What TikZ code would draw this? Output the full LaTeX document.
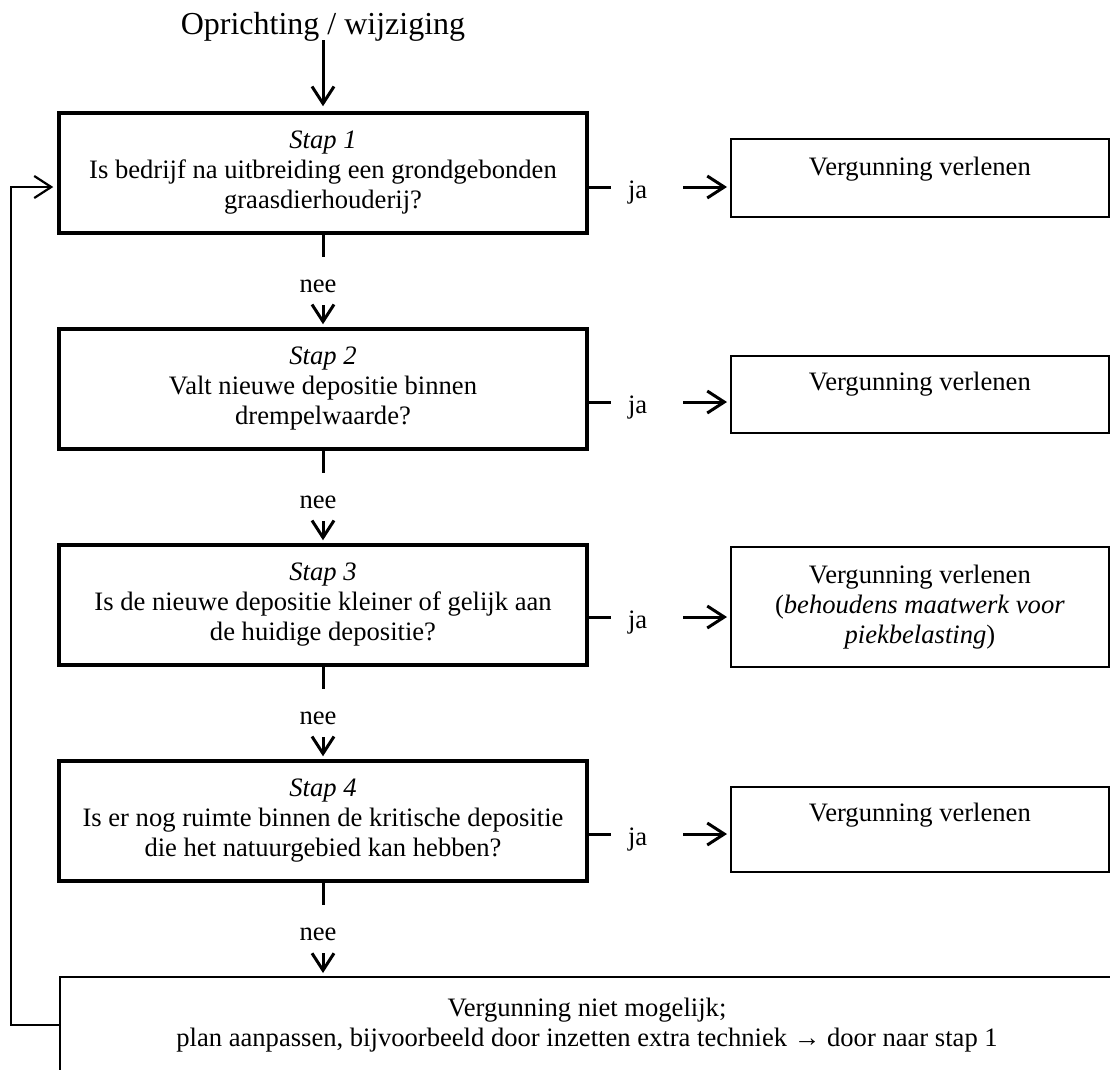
\documentclass[tikz,border=0pt]{standalone}
\usepackage{fontspec}
\setmainfont{Liberation Serif}
\usetikzlibrary{arrows.meta}
\begin{document}
\begin{tikzpicture}[x=1pt,y=-1pt,
  every node/.style={font=\fontsize{26.6}{30}\selectfont},
  qbox/.style={draw, line width=3.5pt, minimum width=528pt, minimum height=120pt, inner sep=0pt, align=center},
  rbox/.style={draw, line width=1.8pt, minimum width=378pt, inner xsep=0pt, inner ysep=0pt, anchor=north west, align=center},
  jalab/.style={inner xsep=17pt, inner ysep=0pt, text width=38pt, align=left, text height=24pt, text depth=2pt},
  neelab/.style={inner xsep=0pt, inner ysep=11pt, text height=24pt, text depth=2pt},
  conn/.style={line width=3pt},
  arr/.style={line width=3pt, -{Straight Barb[length=17pt,width=22pt]}, shorten >=3pt},
]
\path[use as bounding box, fill=white] (0,0) rectangle (1110,1069);
\clip (0,0) rectangle (1110,1069);

% title
\node[font=\fontsize{32}{36}\selectfont, inner sep=0pt, text depth=6pt, anchor=base] (t) at (323,34) {Oprichting / wijziging};

% question boxes
\node[qbox] (b1) at (323,173) {\textit{Stap 1}\\Is bedrijf na uitbreiding een grondgebonden\\graasdierhouderij?};
\node[qbox] (b2) at (323,389) {\textit{Stap 2}\\Valt nieuwe depositie binnen\\drempelwaarde?};
\node[qbox] (b3) at (323,605) {\textit{Stap 3}\\Is de nieuwe depositie kleiner of gelijk aan\\de huidige depositie?};
\node[qbox] (b4) at (323,821) {\textit{Stap 4}\\Is er nog ruimte binnen de kritische depositie\\die het natuurgebied kan hebben?};

% bottom box
\node[draw, line width=2pt, minimum width=1054pt, minimum height=96pt, inner sep=0pt, align=center] (b5) at (587,1025) {Vergunning niet mogelijk;\\plan aanpassen, bijvoorbeeld door inzetten extra techniek → door naar stap 1};

% result boxes
\node[rbox, text height=37pt, text depth=41pt] (r1) at (730,138) {Vergunning verlenen};
\node[rbox, text height=35pt, text depth=42pt] (r2) at (730,355) {Vergunning verlenen};
\node[rbox, minimum height=120pt] (r3) at (730,546) {Vergunning verlenen\\(\textit{behoudens maatwerk voor}\\\textit{piekbelasting})};
\node[rbox, text height=35pt, text depth=50pt] (r4) at (730,786) {Vergunning verlenen};

% labels
\node[jalab] (ja1) at (647,187) {ja};
\node[jalab] (ja2) at (647,402) {ja};
\node[jalab] (ja3) at (647,617) {ja};
\node[jalab] (ja4) at (647,834) {ja};
\node[neelab] (n1) at (318,281) {nee};
\node[neelab] (n2) at (318,497) {nee};
\node[neelab] (n3) at (318,713) {nee};
\node[neelab] (n4) at (318,929) {nee};

% connectors
\draw[arr, shorten >=5pt] (t.south) -- (b1.north);
\draw[conn] (b1.south) -- (b1.south |- n1.north);
\draw[arr] (b1.south |- n1.south) -- (b2.north);
\draw[conn] (b2.south) -- (b2.south |- n2.north);
\draw[arr] (b2.south |- n2.south) -- (b3.north);
\draw[conn] (b3.south) -- (b3.south |- n3.north);
\draw[arr] (b3.south |- n3.south) -- (b4.north);
\draw[conn] (b4.south) -- (b4.south |- n4.north);
\draw[arr] (b4.south |- n4.south) -- (b4.south |- b5.north);

\draw[conn] (ja1.west -| b1.east) -- (ja1.west);
\draw[arr] (ja1.east) -- (ja1.east -| r1.west);
\draw[conn] (ja2.west -| b2.east) -- (ja2.west);
\draw[arr] (ja2.east) -- (ja2.east -| r2.west);
\draw[conn] (ja3.west -| b3.east) -- (ja3.west);
\draw[arr] (ja3.east) -- (ja3.east -| r3.west);
\draw[conn] (ja4.west -| b4.east) -- (ja4.west);
\draw[arr] (ja4.east) -- (ja4.east -| r4.west);

% loop back
\coordinate (lp) at (11,187);
\draw[line width=2.2pt, -{Straight Barb[length=17pt,width=22pt]}, shorten >=4pt] (b5.west) -| (lp) -- (lp -| b1.west);
\end{tikzpicture}
\end{document}
